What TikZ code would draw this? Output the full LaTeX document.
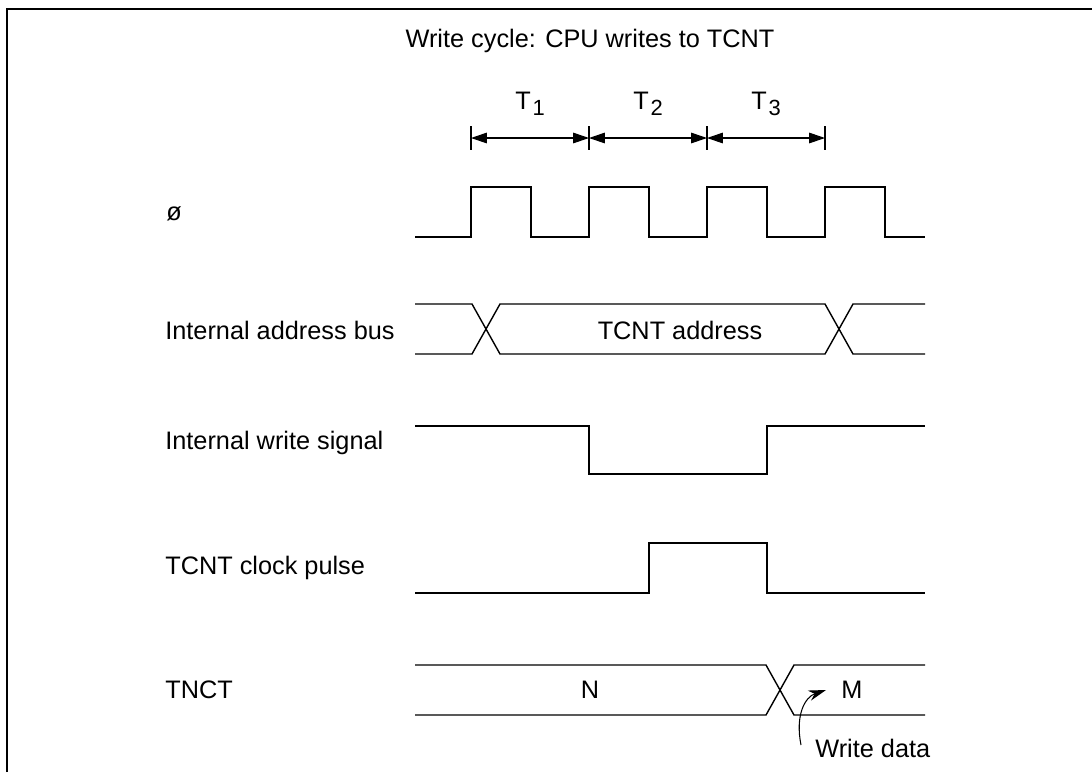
\documentclass[tikz,border=0pt]{standalone}
\usepackage{fontspec}
\setmainfont{Liberation Sans}
\usetikzlibrary{arrows.meta}

\begin{document}
\begin{tikzpicture}[
  x=0.02cm, y=-0.02cm,
  txt/.style={font=\fontsize{14.4}{17}\selectfont, inner sep=0pt},
  sig/.style={line width=0.8pt},
  dim/.style={line width=0.6pt, {Triangle[length=9pt,width=6pt]}-{Triangle[length=9pt,width=6pt]}},
  tick/.style={line width=0.6pt}
]
\useasboundingbox (0,0) rectangle (1092,772);
% frame
\draw[line width=1.1pt] (7,772) -- (7,9) -- (1092,9);

\node[txt] (title) at (590,41) {Write cycle: CPU writes to TCNT};

% signal names
\node[txt,anchor=west] (phi)   at (166,214) {ø};
\node[txt,anchor=west] (abus)  at (165,330) {Internal address bus};
\node[txt,anchor=west] (wr)    at (165,443) {Internal write signal};
\node[txt,anchor=west] (clk)   at (165,568) {TCNT clock pulse};
\node[txt,anchor=west] (tnct)  at (165,690) {TNCT};

% states T1..T3
\foreach \x [count=\i] in {471,589,707,825} {
  \coordinate (t\i) at (\x,138);
  \draw[tick] (\x,126) -- (\x,150);
}
\foreach \i/\j/\xm in {1/2/530,2/3/648,3/4/766} {
  \draw[dim] (t\i) -- (t\j);
  \node[txt] (T\i) at (\xm,104)
    {T\kern1pt\raisebox{-3.4pt}{\fontsize{12.5}{15}\selectfont\i}};
}

% clock
\draw[sig] (415,237) \foreach \x in {471,589,707,825} {
  -- (\x,237) -- (\x,187) -- (\x+60,187) -- (\x+60,237)} -- (925,237);

% address bus
\draw[sig] (415,304) -- (472,304) -- (500,354) -- (825,354) -- (853,304) -- (925,304);
\draw[sig] (415,354) -- (472,354) -- (500,304) -- (825,304) -- (853,354) -- (925,354);
\node[txt] (addr) at (680,330) {TCNT address};

% write signal
\draw[sig] (415,426) -- (589,426) -- (589,474) -- (767,474) -- (767,426) -- (925,426);

% clock pulse
\draw[sig] (415,593) -- (649,593) -- (649,543) -- (767,543) -- (767,593) -- (925,593);

% counter
\draw[sig] (415,665) -- (766,665) -- (794,715) -- (925,715);
\draw[sig] (415,715) -- (766,715) -- (794,665) -- (925,665);
\node[txt] (valN) at (590,690) {N};
\node[txt] (valM) at (852,690) {M};

% write data
\node[txt,anchor=west] (wdata) at (815,748) {Write data};
\coordinate (wtip) at (826,690);
\draw[line width=0.6pt,-{Stealth[length=10pt,width=6pt]}] (801,745)
  .. controls (795,715) and (805,697) .. (wtip);
\end{tikzpicture}
\end{document}
